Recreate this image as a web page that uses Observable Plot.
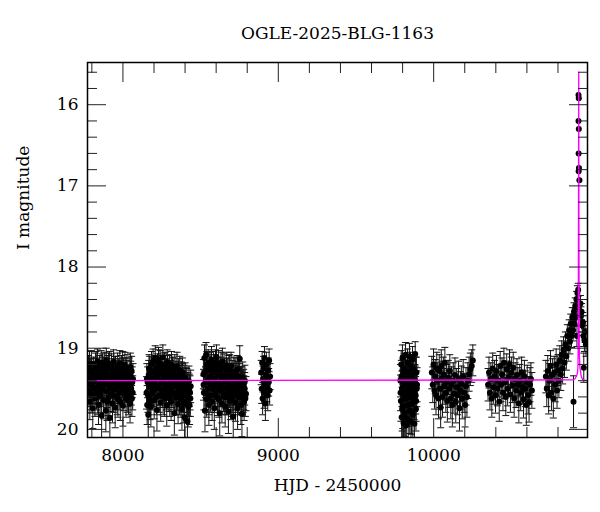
<!DOCTYPE html>
<html>
<head>
<meta charset="utf-8">
<script src="https://cdn.jsdelivr.net/npm/d3@7"></script>
<script src="https://cdn.jsdelivr.net/npm/@observablehq/plot@0.6"></script>
<style>
  html, body { margin: 0; padding: 0; background: #fff; }
</style>
</head>
<body>
<div id="chart"></div>
<script>
// ---- Data: [HJD-2450000, I mag, error] per observing season ----
const season2017 = [[7778,19.24,0.15],[7781,19.52,0.2],[7784,19.38,0.18],[7787,19.66,0.22],[7790,19.3,0.17],[7794,19.45,0.19],[7797,19.19,0.16],[7800,19.58,0.21],[7803,19.35,0.18],[7806,19.74,0.25],[7810,19.27,0.16],[7813,19.49,0.2],[7816,19.41,0.19],[7820,19.62,0.22],[7823,19.22,0.16],[7826,19.36,0.18],[7830,19.55,0.21],[7833,19.29,0.17],[7836,19.16,0.15],[7840,19.47,0.2],[7843,19.7,0.24],[7846,19.33,0.18],[7850,19.25,0.16],[7853,19.58,0.21],[7856,19.42,0.19],[7860,19.18,0.15],[7863,19.83,0.28],[7866,19.37,0.18],[7870,19.5,0.2],[7873,19.28,0.17],[7876,19.64,0.23],[7880,19.21,0.16],[7883,19.44,0.19],[7886,19.33,0.18],[7890,19.77,0.26],[7893,19.15,0.15],[7896,19.53,0.2],[7900,19.39,0.19],[7903,19.26,0.17],[7906,19.61,0.22],[7910,19.46,0.2],[7913,19.2,0.16],[7916,19.86,0.3],[7920,19.34,0.18],[7923,19.57,0.21],[7926,19.23,0.16],[7930,19.43,0.19],[7933,19.68,0.24],[7936,19.3,0.17],[7940,19.17,0.15],[7943,19.51,0.2],[7946,19.4,0.19],[7950,19.73,0.25],[7953,19.27,0.17],[7956,19.48,0.2],[7960,19.35,0.18],[7963,19.6,0.22],[7966,19.22,0.16],[7970,19.45,0.19],[7973,19.31,0.18],[7976,19.55,0.21],[7980,19.19,0.16],[7983,19.66,0.23],[7986,19.38,0.19],[7990,19.26,0.17],[7993,19.5,0.2],[7996,19.42,0.19],[8000,19.71,0.25],[8003,19.29,0.17],[8006,19.56,0.21],[8010,19.36,0.18],[8013,19.21,0.16],[8016,19.47,0.2],[8020,19.63,0.22],[8023,19.33,0.18],[8026,19.25,0.17],[8030,19.52,0.2],[8033,19.4,0.19],[8036,19.6,0.22],[8040,19.3,0.18],[8043,19.45,0.2],[8046,19.68,0.24],[8050,19.35,0.19],[8053,19.5,0.2],[8056,19.28,0.18],[8060,19.42,0.19],[8063,19.55,0.21],
  [7779,19.42,0.19],[7785,19.2,0.16],[7792,19.55,0.21],[7799,19.3,0.17],[7808,19.48,0.2],[7818,19.35,0.18],[7828,19.2,0.16],[7838,19.6,0.22],[7848,19.4,0.19],[7858,19.52,0.2],[7868,19.24,0.17],[7878,19.45,0.19],[7888,19.3,0.18],[7898,19.66,0.23],[7908,19.22,0.16],[7918,19.5,0.2],[7928,19.36,0.18],[7938,19.58,0.21],[7948,19.27,0.17],[7958,19.44,0.19],[7968,19.63,0.22],[7978,19.33,0.18],[7988,19.48,0.2],[7998,19.2,0.16],[8008,19.42,0.19],[8018,19.3,0.18],[8028,19.58,0.21],[8038,19.45,0.2],[8048,19.23,0.17],[8058,19.62,0.22],[8065,19.38,0.19]];
const season2018 = [[8152,19.55,0.2],[8156,19.7,0.24],[8159,19.42,0.19],[8163,19.82,0.28],[8166,19.33,0.18],[8170,19.6,0.22],[8173,19.27,0.17],[8177,19.48,0.2],[8180,19.72,0.25],[8184,19.2,0.16],[8187,19.38,0.18],[8191,19.55,0.21],[8194,19.16,0.15],[8198,19.44,0.19],[8201,19.64,0.23],[8205,19.3,0.17],[8208,19.12,0.15],[8212,19.5,0.2],[8215,19.36,0.18],[8219,19.76,0.26],[8222,19.23,0.16],[8226,19.46,0.2],[8229,19.14,0.15],[8233,19.58,0.21],[8236,19.32,0.18],[8240,19.19,0.16],[8243,19.67,0.23],[8247,19.4,0.19],[8250,19.26,0.17],[8254,19.53,0.2],[8257,19.11,0.15],[8261,19.43,0.19],[8264,19.35,0.18],[8268,19.62,0.22],[8271,19.21,0.16],[8275,19.48,0.2],[8278,19.3,0.17],[8282,19.71,0.25],[8285,19.17,0.15],[8289,19.45,0.19],[8292,19.37,0.18],[8296,19.57,0.21],[8299,19.24,0.16],[8303,19.5,0.2],[8306,19.33,0.18],[8310,19.66,0.23],[8313,19.2,0.16],[8317,19.42,0.19],[8320,19.28,0.17],[8324,19.55,0.21],[8327,19.39,0.19],[8331,19.8,0.27],[8334,19.25,0.17],[8338,19.47,0.2],[8341,19.34,0.18],[8345,19.6,0.22],[8348,19.22,0.17],[8352,19.44,0.19],[8355,19.69,0.24],[8359,19.31,0.18],[8362,19.52,0.2],[8366,19.27,0.17],[8369,19.4,0.19],[8373,19.63,0.22],[8376,19.35,0.18],[8380,19.75,0.26],[8383,19.3,0.18],[8387,19.48,0.2],[8390,19.58,0.21],[8394,19.4,0.19],[8397,19.85,0.3],[8401,19.36,0.18],[8404,19.52,0.2],[8408,19.66,0.23],[8411,19.44,0.19],[8415,19.9,0.32],[8418,19.5,0.2],[8422,19.62,0.22],[8425,19.41,0.19],[8429,19.7,0.24],[8432,19.55,0.21],[8436,19.47,0.2],
  [8154,19.38,0.19],[8161,19.58,0.21],[8168,19.25,0.17],[8175,19.65,0.23],[8182,19.45,0.19],[8189,19.3,0.18],[8196,19.52,0.2],[8203,19.4,0.19],[8210,19.26,0.17],[8217,19.6,0.22],[8224,19.34,0.18],[8231,19.18,0.16],[8238,19.5,0.2],[8245,19.28,0.17],[8252,19.42,0.19],[8259,19.6,0.22],[8266,19.22,0.16],[8273,19.36,0.18],[8280,19.55,0.21],[8287,19.26,0.17],[8294,19.47,0.2],[8301,19.62,0.22],[8308,19.38,0.19],[8315,19.53,0.2],[8322,19.3,0.18],[8329,19.45,0.19],[8336,19.6,0.22],[8343,19.4,0.19],[8350,19.56,0.21],[8357,19.35,0.18],[8364,19.6,0.22],[8371,19.46,0.2],[8378,19.55,0.21],[8385,19.38,0.19],[8392,19.68,0.24],[8399,19.5,0.2],[8406,19.43,0.19],[8413,19.58,0.21],[8420,19.72,0.25],[8427,19.52,0.2],[8434,19.62,0.22]];
const season2019 = [[8518,19.32,0.18],[8521,19.55,0.21],[8525,19.12,0.16],[8528,19.77,0.26],[8532,19.42,0.19],[8535,19.08,0.15],[8539,19.63,0.22],[8542,19.27,0.17],[8546,19.5,0.2],[8549,19.18,0.16],[8553,19.7,0.25],[8556,19.36,0.18],[8560,19.22,0.17],[8563,19.58,0.21],[8567,19.45,0.19],[8570,19.14,0.16],[8574,19.66,0.23],[8577,19.3,0.18],[8581,19.48,0.2],[8584,19.2,0.16],[8588,19.74,0.26],[8591,19.38,0.19],[8595,19.25,0.17],[8598,19.55,0.21],[8602,19.11,0.15],[8605,19.43,0.19],[8609,19.61,0.22],[8612,19.33,0.18],[8616,19.19,0.16],[8619,19.52,0.2],[8623,19.8,0.28],[8626,19.28,0.17],[8630,19.46,0.2],[8633,19.36,0.18],[8637,19.68,0.24],[8640,19.16,0.16],[8644,19.41,0.19],[8647,19.57,0.21],[8651,19.24,0.17],[8654,19.35,0.18],[8658,19.72,0.25],[8661,19.49,0.2],[8665,19.21,0.16],[8668,19.6,0.22],[8672,19.31,0.18],[8675,19.44,0.19],[8679,19.78,0.27],[8682,19.26,0.17],[8686,19.53,0.2],[8689,19.38,0.19],[8693,19.65,0.23],[8696,19.22,0.17],[8700,19.47,0.2],[8703,19.33,0.18],[8707,19.58,0.21],[8710,19.84,0.29],[8714,19.29,0.18],[8717,19.5,0.2],[8721,19.4,0.19],[8724,19.67,0.23],[8728,19.35,0.18],[8731,19.55,0.21],[8735,19.26,0.17],[8738,19.74,0.26],[8742,19.45,0.2],[8745,19.6,0.22],[8749,19.38,0.19],[8752,19.13,0.16],[8756,19.52,0.2],[8759,19.7,0.24],[8763,19.42,0.19],[8766,19.81,0.28],[8770,19.48,0.2],[8773,19.58,0.21],[8777,19.45,0.19],[8780,19.66,0.23],[8784,19.5,0.2],[8788,19.62,0.22],
  [8519,19.45,0.19],[8526,19.3,0.18],[8533,19.55,0.21],[8540,19.2,0.16],[8547,19.4,0.19],[8554,19.6,0.22],[8561,19.35,0.18],[8568,19.25,0.17],[8575,19.5,0.2],[8582,19.38,0.19],[8589,19.58,0.21],[8596,19.18,0.16],[8603,19.46,0.2],[8610,19.3,0.18],[8617,19.63,0.22],[8624,19.42,0.19],[8631,19.22,0.17],[8638,19.52,0.2],[8645,19.33,0.18],[8652,19.6,0.22],[8659,19.4,0.19],[8666,19.3,0.18],[8673,19.56,0.21],[8680,19.44,0.19],[8687,19.25,0.17],[8694,19.5,0.2],[8701,19.62,0.22],[8708,19.38,0.19],[8715,19.55,0.21],[8722,19.3,0.18],[8729,19.46,0.2],[8736,19.58,0.21],[8743,19.35,0.19],[8750,19.52,0.2],[8757,19.42,0.19],[8764,19.6,0.22],[8771,19.36,0.19],[8778,19.55,0.21],[8785,19.4,0.19],[8792,19.56,0.21]];
const season2020 = [[8890,19.3,0.15],[8893,19.5,0.18],[8896,19.18,0.14],[8899,19.62,0.2],[8902,19.38,0.16],[8905,19.25,0.15],[8908,19.55,0.19],[8911,19.12,0.14],[8914,19.44,0.17],[8917,19.68,0.21],[8920,19.33,0.16],[8923,19.2,0.15],[8926,19.48,0.18],[8929,19.36,0.16],[8932,19.58,0.19],[8935,19.27,0.15],[8938,19.42,0.17],[8941,19.15,0.14],[8944,19.52,0.18],[8947,19.35,0.16]];
const season2022 = [[9786,19.4,0.2],[9789,19.65,0.25],[9791,19.2,0.17],[9794,19.85,0.3],[9796,19.5,0.22],[9799,19.12,0.16],[9801,19.72,0.27],[9804,19.33,0.19],[9806,19.92,0.32],[9809,19.56,0.23],[9811,19.25,0.18],[9814,19.8,0.29],[9816,19.44,0.21],[9819,19.08,0.15],[9821,19.62,0.24],[9824,19.95,0.34],[9826,19.37,0.2],[9829,19.7,0.26],[9831,19.18,0.17],[9834,19.52,0.22],[9836,19.88,0.31],[9839,19.29,0.18],[9841,19.6,0.24],[9844,19.1,0.16],[9846,19.77,0.28],[9849,19.45,0.21],[9851,19.22,0.17],[9854,19.9,0.32],[9856,19.55,0.23],[9859,19.34,0.19],[9861,19.68,0.26],[9864,19.14,0.16],[9866,19.82,0.3],[9869,19.47,0.21],[9871,19.26,0.18],[9874,19.63,0.25],[9876,19.93,0.33],[9879,19.4,0.2],[9881,19.07,0.15],[9884,19.58,0.23],[9886,19.75,0.27],[9889,19.3,0.19],[9891,19.5,0.22],
  [9787,19.55,0.22],[9792,19.35,0.2],[9797,19.75,0.27],[9802,19.48,0.22],[9807,19.28,0.19],[9812,19.62,0.24],[9817,19.85,0.3],[9822,19.42,0.21],[9827,19.58,0.23],[9832,19.32,0.2],[9837,19.7,0.26],[9842,19.46,0.22],[9847,19.6,0.24],[9852,19.38,0.2],[9857,19.78,0.28],[9862,19.5,0.22],[9867,19.62,0.24],[9872,19.42,0.21],[9877,19.55,0.23],[9882,19.3,0.19],[9887,19.65,0.25],[9893,19.45,0.21]];
const season2023 = [[9988,19.3,0.2],[9994,19.45,0.22],[9999,19.2,0.19],[10005,19.52,0.23],[10010,19.35,0.21],[10015,19.58,0.24],[10020,19.25,0.2],[10026,19.4,0.22],[10031,19.62,0.25],[10036,19.28,0.2],[10041,19.5,0.23],[10045,19.73,0.25],[10049,19.22,0.2],[10052,19.38,0.22],[10057,19.6,0.25],[10062,19.32,0.21],[10067,19.47,0.22],[10072,19.18,0.19],[10078,19.55,0.24],[10083,19.42,0.22],[10088,19.65,0.26],[10094,19.36,0.21],[10099,19.5,0.23],[10104,19.28,0.2],[10110,19.62,0.25],[10115,19.45,0.22],[10120,19.7,0.27],[10126,19.4,0.22],[10131,19.56,0.24],[10137,19.33,0.21],[10142,19.66,0.26],[10148,19.48,0.23],[10154,19.58,0.24],[10160,19.38,0.22],[10166,19.74,0.28],[10172,19.52,0.23],[10178,19.44,0.22],[10184,19.62,0.25],[10190,19.35,0.21],[10196,19.55,0.24],[10202,19.7,0.27],[10208,19.47,0.23],[10214,19.6,0.25],[10220,19.4,0.22],[10228,19.32,0.21],[10236,19.26,0.2],[10245,19.22,0.2],[10252,19.15,0.19]];
const season2024 = [[10350,19.45,0.2],[10356,19.3,0.19],[10362,19.55,0.21],[10368,19.38,0.2],[10374,19.62,0.23],[10380,19.25,0.19],[10386,19.48,0.21],[10392,19.35,0.2],[10398,19.58,0.22],[10404,19.28,0.19],[10410,19.5,0.21],[10416,19.4,0.2],[10422,19.66,0.24],[10428,19.22,0.18],[10434,19.45,0.21],[10440,19.32,0.2],[10446,19.55,0.22],[10452,19.18,0.18],[10458,19.42,0.2],[10464,19.6,0.23],[10470,19.26,0.19],[10476,19.5,0.21],[10482,19.36,0.2],[10488,19.2,0.18],[10494,19.57,0.22],[10500,19.3,0.19],[10506,19.46,0.21],[10512,19.24,0.19],[10518,19.62,0.23],[10524,19.38,0.2],[10530,19.52,0.21],[10536,19.33,0.2],[10542,19.45,0.21],[10548,19.68,0.24],[10554,19.4,0.2],[10560,19.55,0.22],[10566,19.3,0.19],[10572,19.48,0.21],[10578,19.63,0.23],[10584,19.35,0.2],[10590,19.5,0.22],[10596,19.7,0.25],[10602,19.42,0.21],[10608,19.58,0.23],[10614,19.67,0.24],[10620,19.45,0.21],[10626,19.38,0.2],[10632,19.52,0.22]];
const season2025 = [[10722,19.35,0.2],[10728,19.5,0.22],[10734,19.28,0.19],[10740,19.58,0.23],[10746,19.4,0.21],[10752,19.22,0.19],[10758,19.55,0.22],[10764,19.33,0.2],[10770,19.62,0.24],[10776,19.3,0.2],[10782,19.45,0.21],[10788,19.2,0.19],[10794,19.52,0.22],[10800,19.27,0.19],[10806,19.4,0.21],[10812,19.15,0.18],[10818,19.32,0.2],[10824,19.08,0.17],[10830,19.25,0.19],[10836,19.02,0.16],[10842,19.18,0.18],[10848,18.95,0.15],[10854,19.1,0.17],[10860,18.85,0.14],[10866,19.0,0.16],[10872,18.78,0.13],[10877,18.92,0.15],[10882,18.7,0.12],[10887,18.85,0.14],[10892,18.62,0.12],[10897,18.78,0.13],[10900,19.66,0.32],[10903,18.55,0.11],[10907,18.7,0.12],[10911,18.48,0.1],[10915,18.62,0.11],[10919,18.4,0.1],[10922,18.85,0.13],[10925,18.32,0.09],[10928,18.5,0.1],[10930,18.28,0.08],[10932,15.88,0.02],[10932,16.2,0.02],[10933,16.6,0.03],[10933,16.82,0.03],[10934,15.92,0.02],[10934,16.3,0.02],[10935,16.78,0.03],[10938,16.93,0.03],[10945,18.45,0.1],[10948,18.6,0.11],[10952,18.55,0.1],[10956,18.72,0.12],[10960,18.68,0.12],[10964,18.85,0.13],[10966,19.24,0.18],[10970,18.9,0.14],[10975,18.8,0.13],[10980,18.95,0.15]];

// Model light curve
const modelT = [7772, 10900, 10912, 10920, 10926, 10929, 10930.5, 10932, 10933.5, 10935, 10936.5, 10938, 10942, 10950, 10960, 10990];
const modelM = [19.4, 19.39, 19.37, 19.34, 19.3, 19.2, 18.8, 17.5, 15.6, 17.5, 18.8, 19.1, 19.25, 19.35, 19.39, 19.4];

// Axis ticks
const xMajor = [8000, 9000, 10000];
const xMinor = [7800, 8200, 8400, 8600, 8800, 9200, 9400, 9600, 9800, 10200, 10400, 10600, 10800];
const yMajor = [16, 17, 18, 19, 20];
const yMinor = [15.6, 15.8, 16.2, 16.4, 16.6, 16.8, 17.2, 17.4, 17.6, 17.8, 18.2, 18.4, 18.6, 18.8, 19.2, 19.4, 19.6, 19.8];

const titleText = "OGLE-2025-BLG-1163";
const xLabel = "HJD - 2450000";
const yLabel = "I magnitude";

// ---- Build ----
const obs = [season2017, season2018, season2019, season2020, season2022, season2023, season2024, season2025]
  .flat().map(([t, m, e]) => ({t, m, e}));
const capped = obs.filter(d => d.e >= 0.05);
const model = modelT.map((t, i) => ({t, m: modelM[i]}));

const capSymbol = { draw(ctx) { ctx.moveTo(-3.5, 0); ctx.lineTo(3.5, 0); } };
const noText = () => "";

const chart = Plot.plot({
  width: 600,
  height: 512,
  marginTop: 62,
  marginBottom: 75,
  marginLeft: 87,
  marginRight: 13,
  style: {fontFamily: "'DejaVu Serif', serif", fontSize: "17px", background: "#fff", color: "#000"},
  x: {domain: [7772, 10990]},
  y: {domain: [15.48, 20.1], reverse: true},
  marks: [
    Plot.ruleX(obs, {x: "t", y1: d => d.m - d.e, y2: d => d.m + d.e, stroke: "#111", strokeWidth: 1, clip: true}),
    Plot.dot(capped, {x: "t", y: d => d.m - d.e, symbol: capSymbol, stroke: "#111", fill: "none", strokeWidth: 1, clip: true}),
    Plot.dot(capped, {x: "t", y: d => d.m + d.e, symbol: capSymbol, stroke: "#111", fill: "none", strokeWidth: 1, clip: true}),
    Plot.dot(obs, {x: "t", y: "m", r: 3, fill: "#000", stroke: "none", clip: true}),
    Plot.line(model, {x: "t", y: "m", stroke: "#ff00ff", strokeWidth: 1.3, clip: true}),
    // inward ticks on all four sides
    Plot.axisX({ticks: xMajor, anchor: "bottom", tickSize: -19, tickFormat: noText, label: null, stroke: "#222"}),
    Plot.axisX({ticks: xMinor, anchor: "bottom", tickSize: -10, tickFormat: noText, label: null, stroke: "#222"}),
    Plot.axisX({ticks: xMajor, anchor: "top", tickSize: -19, tickFormat: noText, label: null, stroke: "#222"}),
    Plot.axisX({ticks: xMinor, anchor: "top", tickSize: -10, tickFormat: noText, label: null, stroke: "#222"}),
    Plot.axisY({ticks: yMajor, anchor: "left", tickSize: -19, tickFormat: noText, label: null, stroke: "#222"}),
    Plot.axisY({ticks: yMinor, anchor: "left", tickSize: -10, tickFormat: noText, label: null, stroke: "#222"}),
    Plot.axisY({ticks: yMajor, anchor: "right", tickSize: -19, tickFormat: noText, label: null, stroke: "#222"}),
    Plot.axisY({ticks: yMinor, anchor: "right", tickSize: -10, tickFormat: noText, label: null, stroke: "#222"}),
    // tick labels
    Plot.axisX({ticks: xMajor, anchor: "bottom", tickSize: 0, tickPadding: 11, tickFormat: d => String(d), label: null, fontSize: 17}),
    Plot.axisY({ticks: yMajor, anchor: "left", tickSize: 0, tickPadding: 9, tickFormat: d => String(d), label: null, fontSize: 17}),
    Plot.frame({stroke: "#000", strokeWidth: 1.5}),
    // title and axis labels
    Plot.text([titleText], {frameAnchor: "top", dy: -29, lineAnchor: "middle", fontSize: 17, text: d => d}),
    Plot.text([xLabel], {frameAnchor: "bottom", dy: 48, lineAnchor: "middle", fontSize: 17, text: d => d}),
    Plot.text([yLabel], {frameAnchor: "left", dx: -64, rotate: -90, lineAnchor: "middle", fontSize: 17, text: d => d})
  ]
});
document.getElementById("chart").appendChild(chart);
</script>
</body>
</html>
